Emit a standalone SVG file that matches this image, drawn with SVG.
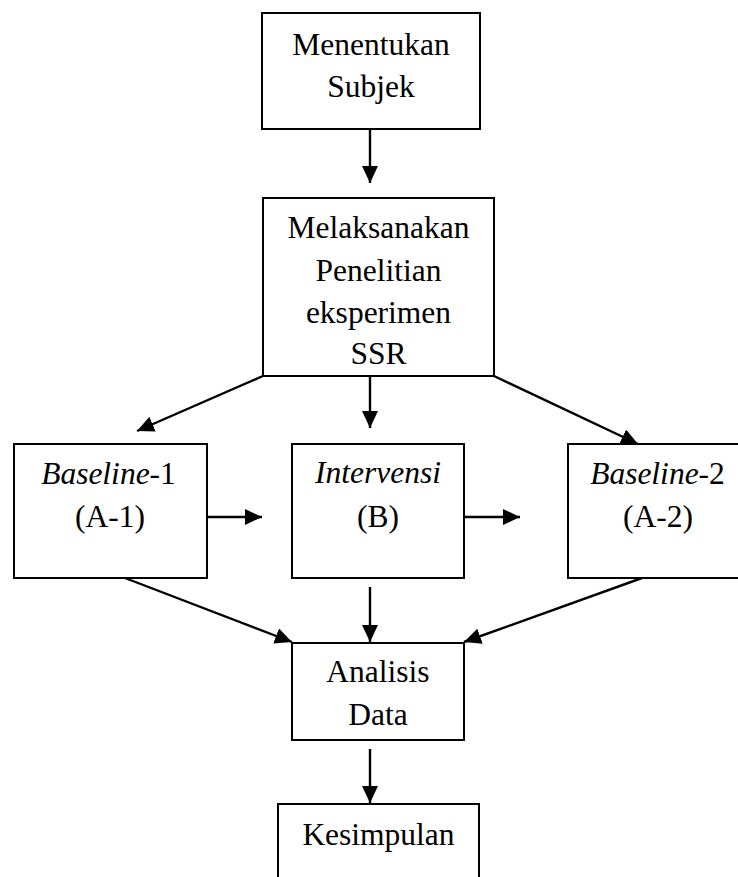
<svg xmlns="http://www.w3.org/2000/svg" width="738" height="877" viewBox="0 0 738 877">
<style>
.box{fill:#fff;stroke:#000;stroke-width:2}
text{font-family:"Times New Roman",serif;font-size:31.5px;fill:#000;text-anchor:middle}
.i{font-style:italic}
.c{stroke:#000;stroke-width:2.4;fill:none;marker-end:url(#ah)}
</style>
<defs>
<marker id="ah" markerUnits="userSpaceOnUse" markerWidth="18" markerHeight="17" refX="17" refY="8" orient="auto">
<path d="M0,0 L17,8 L0,16 z" fill="#000"/>
</marker>
</defs>
<rect width="738" height="877" fill="#fff"/>
<g id="connectors">
<line class="c" x1="370" y1="129" x2="370" y2="183"/>
<line class="c" x1="263" y1="376" x2="137" y2="431"/>
<line class="c" x1="370" y1="376" x2="370" y2="428"/>
<line class="c" x1="494" y1="376" x2="638" y2="444"/>
<line class="c" x1="207" y1="517" x2="262" y2="517"/>
<line class="c" x1="464" y1="517" x2="520" y2="517"/>
<line class="c" x1="125" y1="578" x2="292" y2="642"/>
<line class="c" x1="370" y1="587" x2="370" y2="642"/>
<line class="c" x1="642" y1="578" x2="464" y2="642"/>
<line class="c" x1="370" y1="749" x2="370" y2="803"/>
</g>
<g id="n-subjek">
<rect class="box" x="262" y="13" width="218" height="116"/>
<text x="371" y="55">Menentukan</text>
<text x="371" y="97">Subjek</text>
</g>
<g id="n-melaksanakan">
<rect class="box" x="263" y="198" width="231" height="178"/>
<text x="378.5" y="238">Melaksanakan</text>
<text x="378.5" y="281">Penelitian</text>
<text x="378.5" y="323">eksperimen</text>
<text x="378.5" y="364">SSR</text>
</g>
<g id="n-baseline1">
<rect class="box" x="14" y="444" width="193" height="134"/>
<text x="108.5" y="484"><tspan class="i">Baseline</tspan>-1</text>
<text x="110" y="527">(A-1)</text>
</g>
<g id="n-intervensi">
<rect class="box" x="292" y="444" width="172" height="134"/>
<text class="i" x="378" y="483">Intervensi</text>
<text x="378" y="527">(B)</text>
</g>
<g id="n-baseline2">
<rect class="box" x="568" y="444" width="182" height="134"/>
<text x="657.5" y="484"><tspan class="i">Baseline</tspan>-2</text>
<text x="658" y="527">(A-2)</text>
</g>
<g id="n-analisis">
<rect class="box" x="292" y="643" width="172" height="97"/>
<text x="378" y="682">Analisis</text>
<text x="378" y="725">Data</text>
</g>
<g id="n-kesimpulan">
<rect class="box" x="278" y="804" width="201" height="100"/>
<text x="378.5" y="845">Kesimpulan</text>
</g>
</svg>
